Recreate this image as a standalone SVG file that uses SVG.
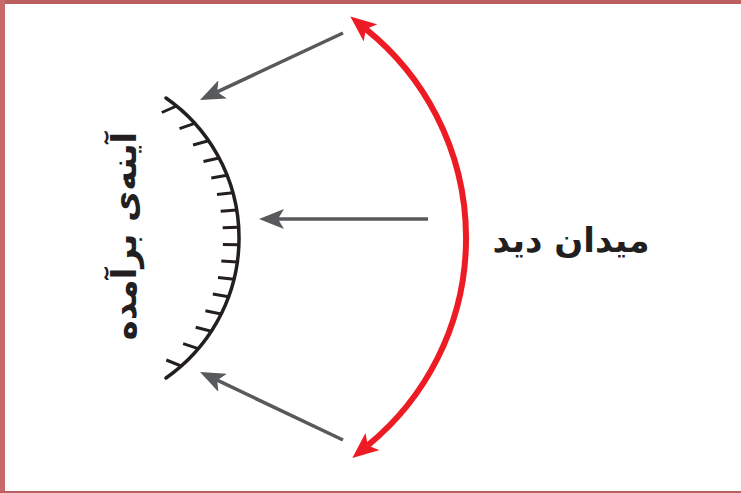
<svg xmlns="http://www.w3.org/2000/svg" width="741" height="493" viewBox="0 0 741 493">
<defs>
<style>
.ray{stroke:#58595b;stroke-width:3.5;fill:none;marker-end:url(#ga)}
.mir{stroke:#231f20;stroke-width:3.5;fill:none;stroke-linecap:round}
.tk line{stroke:#231f20;stroke-width:3;stroke-linecap:butt}
.fov{stroke:#ed1c24;stroke-width:6;fill:none;marker-start:url(#ra);marker-end:url(#ra)}
.lbl{font-family:"DejaVu Sans",sans-serif;font-weight:bold;font-size:34px;fill:#231f20}
</style>
<marker id="ga" markerUnits="userSpaceOnUse" viewBox="0 0 25 20" refX="6" refY="10" markerWidth="25" markerHeight="20" orient="auto">
<path d="M25,10 L0,0 L6,10 L0,20 Z" fill="#58595b"/>
</marker>
<marker id="ra" markerUnits="userSpaceOnUse" viewBox="0 0 26 22" refX="6" refY="11" markerWidth="26" markerHeight="22" orient="auto-start-reverse">
<path d="M26,11 L0,0 L6,11 L0,22 Z" fill="#ed1c24"/>
</marker>
</defs>
<rect width="741" height="493" fill="#fff"/>
<rect x="0" y="0" width="741" height="4" fill="#bb6060"/>
<rect x="0" y="0" width="5" height="493" fill="#c86a6a"/>
<rect x="0" y="491" width="741" height="2" fill="#bb6060"/>

<g id="mirror">
<path class="mir" d="M166,98 A170.7,170.7 0 0 1 166,378"/>
<g class="tk">
<line x1="176.6" y1="106" x2="161.8" y2="112.5"/>
<line x1="194.7" y1="123.3" x2="179.5" y2="128.6"/>
<line x1="208.5" y1="140.7" x2="193.1" y2="145"/>
<line x1="219.1" y1="158" x2="203.5" y2="161.5"/>
<line x1="227.1" y1="175.3" x2="211.3" y2="178"/>
<line x1="232.9" y1="192.7" x2="217" y2="194.6"/>
<line x1="236.7" y1="210" x2="220.7" y2="211.2"/>
<line x1="238.7" y1="227.3" x2="222.7" y2="227.8"/>
<line x1="238.9" y1="244.7" x2="222.9" y2="244.4"/>
<line x1="237.3" y1="262" x2="221.3" y2="261"/>
<line x1="233.9" y1="279.3" x2="218" y2="277.6"/>
<line x1="228.6" y1="296.7" x2="212.8" y2="294.1"/>
<line x1="221.1" y1="314" x2="205.4" y2="310.7"/>
<line x1="211.2" y1="331.3" x2="195.7" y2="327.2"/>
<line x1="198.3" y1="348.7" x2="183.1" y2="343.7"/>
<line x1="181.2" y1="366" x2="166.3" y2="360"/>
</g>
</g>
<g id="mirror-label">
<text class="lbl" transform="translate(136,236) rotate(-90)" text-anchor="middle">آینه‌ی برآمده</text>
</g>
<g id="field-label">
<text class="lbl" x="571" y="252" text-anchor="middle" direction="rtl">میدان دید</text>
</g>
<g id="connectors">
<line class="ray" x1="343" y1="33" x2="217.2" y2="91.9"/>
<line class="ray" x1="428" y1="219" x2="278" y2="219"/>
<line class="ray" x1="343" y1="440" x2="217.2" y2="380.2"/>
<path class="fov" d="M365.9,29.1 A268,268 0 0 1 367.8,445.4"/>
</g>
</svg>
